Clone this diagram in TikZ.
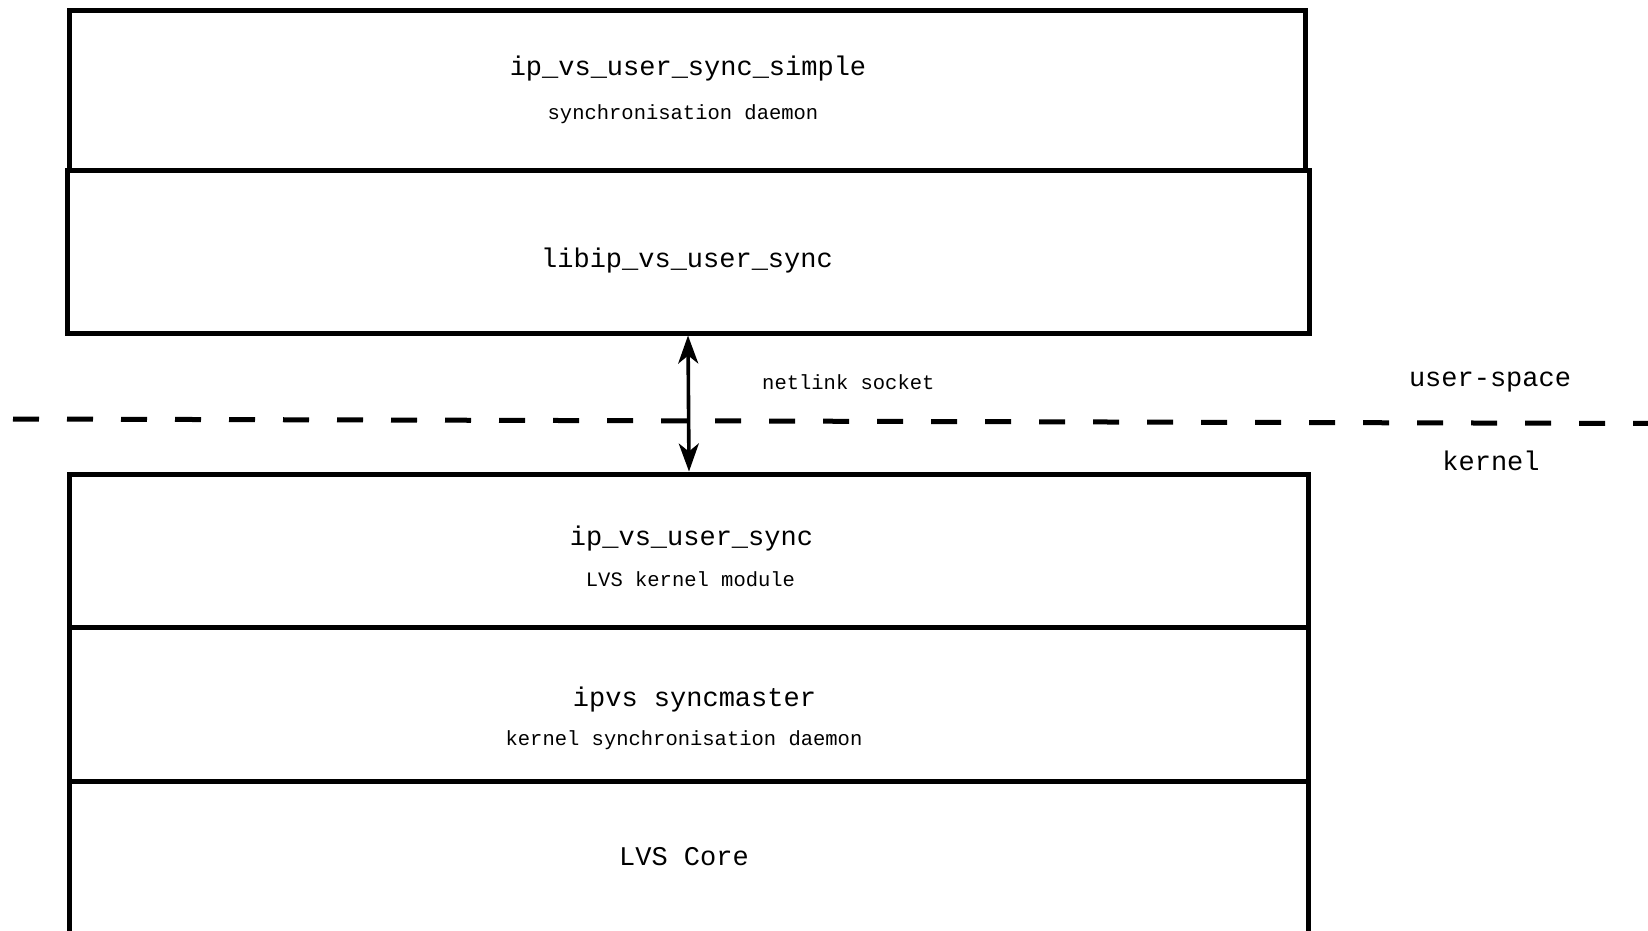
\documentclass[tikz,border=0pt]{standalone}
\usepackage{fontspec}
\setmonofont{Liberation Mono}
\usetikzlibrary{arrows.meta,calc}
\begin{document}
\begin{tikzpicture}[x=1pt,y=-1pt,
  layer/.style={draw,line width=5pt,rectangle,inner sep=0pt},
  big/.style={font=\ttfamily\fontsize{27}{30}\selectfont,anchor=base,inner sep=0pt},
  small/.style={font=\ttfamily\fontsize{20.5}{24}\selectfont,anchor=base,inner sep=0pt},
  boundary/.style={line width=5pt,dash pattern=on 26pt off 28pt},
  link/.style={line width=3.6pt,{Stealth[length=28pt,width=20pt,inset=8pt]}-{Stealth[length=28pt,width=20pt,inset=8pt]}}
]
\useasboundingbox (0,0) rectangle (1648,930);
\clip (0,0) rectangle (1648,930);

% user-space boxes
\node[layer, minimum width=1236pt, minimum height=160pt] (simple) at (687,90) {};
\node[layer, minimum width=1242pt, minimum height=163pt] (lib) at (688,251.5) {};

% kernel boxes
\node[layer, minimum width=1239pt, minimum height=153pt] (mod) at (688.5,550.5) {};
\node[layer, minimum width=1239pt, minimum height=154pt] (master) at (688.5,704) {};
\node[layer, minimum width=1239pt, minimum height=180pt] (core) at (688.5,871) {};

% texts
\node[big] (t1) at (688,75) {ip\_vs\_user\_sync\_simple};
\node[small] (t1s) at (683,119) {synchronisation daemon};
\node[big] (t2) at (687,267) {libip\_vs\_user\_sync};
\node[big] (t3) at (691.5,545) {ip\_vs\_user\_sync};
\node[small] (t3s) at (690.5,586) {LVS kernel module};
\node[big] (t4) at (694.5,706) {ipvs syncmaster};
\node[small] (t4s) at (684,745) {kernel synchronisation daemon};
\node[big] (t5) at (684,865) {LVS Core};

% boundary
\coordinate (bl) at (13,419);
\coordinate (br) at (1660,423.5);
\draw[boundary] (bl) -- (br);
\node[big] (us) at (1490,386) {user-space};
\node[big] (kn) at (1491,470) {kernel};

% netlink
\draw[link] (lib.south) -- ([xshift=0.5pt]mod.north);
\node[small,anchor=base west] (nl) at (762,389) {netlink socket};
\end{tikzpicture}
\end{document}
